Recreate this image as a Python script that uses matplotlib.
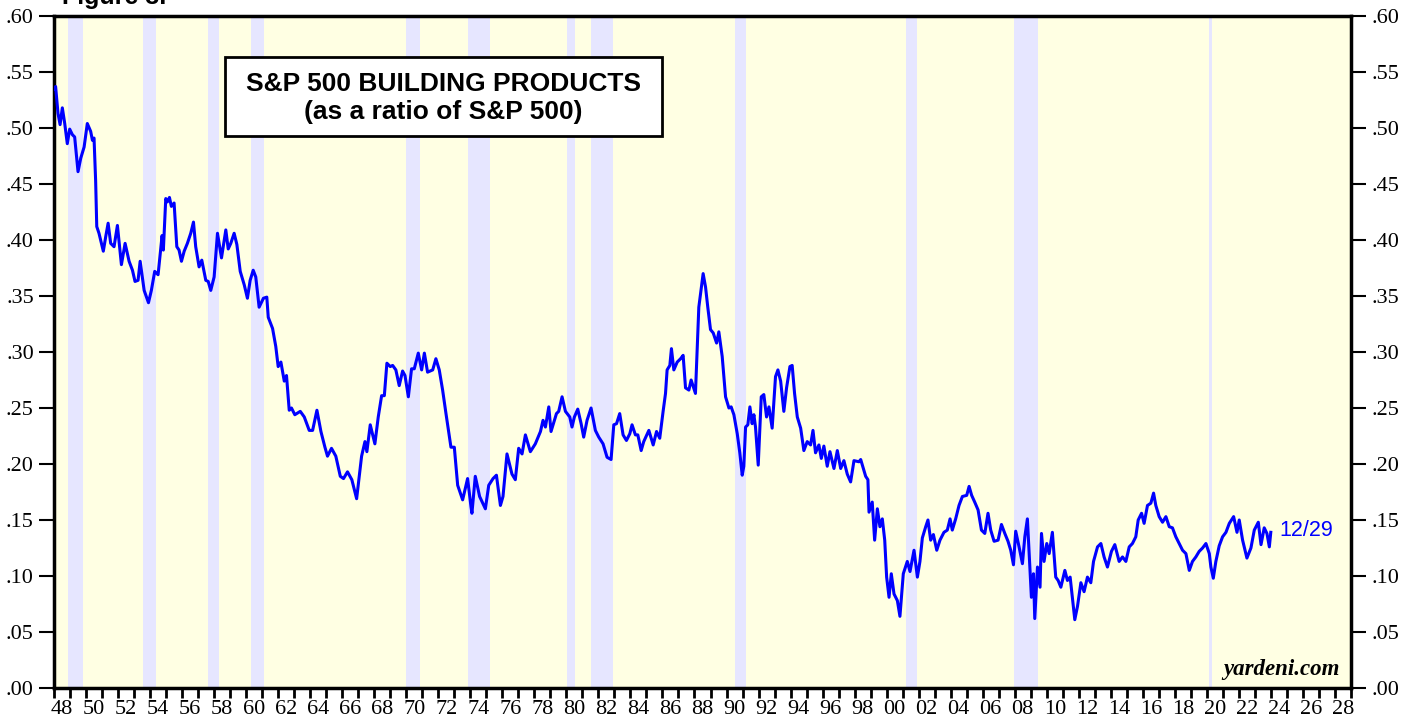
import numpy as np
import matplotlib.pyplot as plt
from matplotlib.patches import Rectangle

# S&P 500 Building Products / S&P 500 (decimal year, ratio)
years = [
    1948.00, 1948.10, 1948.25, 1948.38, 1948.52, 1948.67, 1948.83, 1948.98, 1949.15, 1949.29,
    1949.50, 1949.67, 1949.88, 1950.08, 1950.29, 1950.40, 1950.50, 1950.60, 1950.67, 1950.81,
    1951.08, 1951.23, 1951.38, 1951.54, 1951.75, 1951.96, 1952.21, 1952.44, 1952.69, 1952.90,
    1953.06, 1953.25, 1953.38, 1953.63, 1953.90, 1954.08, 1954.29, 1954.50, 1954.63, 1954.75,
    1954.83, 1954.98, 1955.08, 1955.21, 1955.33, 1955.50, 1955.67, 1955.81, 1955.96, 1956.13,
    1956.33, 1956.54, 1956.71, 1956.85, 1957.06, 1957.23, 1957.48, 1957.63, 1957.79, 1958.00,
    1958.21, 1958.46, 1958.73, 1958.88, 1959.04, 1959.25, 1959.42, 1959.63, 1959.88, 1960.08,
    1960.25, 1960.44, 1960.60, 1960.81, 1961.08, 1961.29, 1961.38, 1961.65, 1961.85, 1962.00,
    1962.17, 1962.38, 1962.52, 1962.69, 1962.83, 1963.04, 1963.38, 1963.63, 1963.94, 1964.15,
    1964.42, 1964.67, 1964.92, 1965.08, 1965.33, 1965.60, 1965.88, 1966.08, 1966.33, 1966.60,
    1966.90, 1967.06, 1967.21, 1967.42, 1967.54, 1967.75, 1968.04, 1968.25, 1968.46, 1968.63,
    1968.79, 1969.00, 1969.15, 1969.35, 1969.56, 1969.77, 1969.92, 1970.13, 1970.33, 1970.50,
    1970.75, 1970.96, 1971.13, 1971.33, 1971.65, 1971.85, 1972.06, 1972.27, 1972.48, 1972.79,
    1973.00, 1973.21, 1973.52, 1973.83, 1974.04, 1974.10, 1974.31, 1974.58, 1974.94, 1975.15,
    1975.42, 1975.63, 1975.88, 1976.04, 1976.29, 1976.60, 1976.81, 1977.02, 1977.23, 1977.44,
    1977.75, 1978.06, 1978.38, 1978.54, 1978.69, 1978.90, 1979.04, 1979.38, 1979.52, 1979.73,
    1979.94, 1980.21, 1980.35, 1980.50, 1980.71, 1980.92, 1981.08, 1981.29, 1981.54, 1981.81,
    1982.02, 1982.29, 1982.54, 1982.79, 1982.96, 1983.13, 1983.33, 1983.54, 1983.75, 1983.96,
    1984.10, 1984.31, 1984.46, 1984.67, 1984.83, 1985.15, 1985.42, 1985.63, 1985.83, 1986.04,
    1986.19, 1986.29, 1986.46, 1986.56, 1986.71, 1986.92, 1987.13, 1987.29, 1987.44, 1987.65,
    1987.79, 1988.06, 1988.27, 1988.54, 1988.69, 1988.83, 1989.00, 1989.17, 1989.38, 1989.52,
    1989.73, 1989.94, 1990.15, 1990.29, 1990.46, 1990.67, 1990.83, 1990.98, 1991.08, 1991.19,
    1991.33, 1991.46, 1991.60, 1991.71, 1991.81, 1991.98, 1992.17, 1992.33, 1992.50, 1992.65,
    1992.85, 1993.06, 1993.21, 1993.38, 1993.58, 1993.75, 1993.96, 1994.10, 1994.25, 1994.42,
    1994.63, 1994.83, 1995.04, 1995.25, 1995.40, 1995.56, 1995.77, 1995.92, 1996.08, 1996.29,
    1996.46, 1996.71, 1996.92, 1997.13, 1997.33, 1997.54, 1997.75, 1997.96, 1998.27, 1998.38,
    1998.69, 1998.83, 1998.90, 1999.10, 1999.25, 1999.42, 1999.58, 1999.73, 1999.88, 2000.00,
    2000.15, 2000.29, 2000.46, 2000.67, 2000.83, 2001.04, 2001.29, 2001.46, 2001.71, 2001.92,
    2002.08, 2002.23, 2002.44, 2002.58, 2002.75, 2002.92, 2003.13, 2003.33, 2003.58, 2003.79,
    2003.96, 2004.10, 2004.31, 2004.52, 2004.73, 2005.00, 2005.15, 2005.31, 2005.50, 2005.71,
    2005.92, 2006.13, 2006.33, 2006.50, 2006.71, 2006.96, 2007.17, 2007.38, 2007.58, 2007.75,
    2007.92, 2008.06, 2008.27, 2008.48, 2008.63, 2008.79, 2008.90, 2009.04, 2009.17, 2009.25,
    2009.42, 2009.58, 2009.67, 2009.83, 2010.00, 2010.15, 2010.35, 2010.56, 2010.71, 2010.88,
    2011.13, 2011.29, 2011.46, 2011.60, 2011.75, 2011.92, 2012.13, 2012.33, 2012.54, 2012.75,
    2012.92, 2013.17, 2013.38, 2013.58, 2013.79, 2014.04, 2014.25, 2014.52, 2014.73, 2014.94,
    2015.15, 2015.35, 2015.56, 2015.71, 2015.92, 2016.08, 2016.29, 2016.50, 2016.67, 2016.81,
    2017.02, 2017.23, 2017.44, 2017.65, 2017.85, 2018.06, 2018.27, 2018.48, 2018.69, 2018.90,
    2019.10, 2019.31, 2019.52, 2019.73, 2019.94, 2020.15, 2020.25, 2020.40, 2020.56, 2020.77,
    2020.98, 2021.19, 2021.40, 2021.67, 2021.88, 2022.02, 2022.23, 2022.50, 2022.75, 2022.96,
    2023.21, 2023.38, 2023.58, 2023.75, 2023.90, 2023.99,
]
ratio = [
    0.535, 0.537, 0.513, 0.503, 0.518, 0.504, 0.486, 0.499, 0.494, 0.492,
    0.461, 0.473, 0.483, 0.504, 0.497, 0.489, 0.491, 0.453, 0.412, 0.406,
    0.390, 0.403, 0.415, 0.397, 0.394, 0.413, 0.378, 0.397, 0.381, 0.373,
    0.363, 0.364, 0.381, 0.355, 0.344, 0.355, 0.372, 0.369, 0.387, 0.404,
    0.391, 0.437, 0.434, 0.438, 0.430, 0.433, 0.394, 0.391, 0.381, 0.390,
    0.397, 0.406, 0.416, 0.394, 0.376, 0.382, 0.364, 0.363, 0.355, 0.367,
    0.406, 0.384, 0.409, 0.392, 0.397, 0.406, 0.396, 0.372, 0.360, 0.348,
    0.364, 0.373, 0.367, 0.340, 0.348, 0.349, 0.331, 0.321, 0.305, 0.287,
    0.291, 0.274, 0.279, 0.248, 0.250, 0.244, 0.247, 0.242, 0.230, 0.230,
    0.248, 0.229, 0.215, 0.207, 0.214, 0.207, 0.189, 0.187, 0.193, 0.186,
    0.169, 0.189, 0.207, 0.220, 0.211, 0.235, 0.218, 0.242, 0.261, 0.261,
    0.290, 0.287, 0.288, 0.284, 0.270, 0.283, 0.279, 0.260, 0.285, 0.285,
    0.299, 0.284, 0.299, 0.282, 0.284, 0.294, 0.284, 0.266, 0.245, 0.215,
    0.215, 0.181, 0.168, 0.187, 0.162, 0.156, 0.189, 0.171, 0.160, 0.181,
    0.187, 0.190, 0.163, 0.171, 0.209, 0.191, 0.186, 0.214, 0.209, 0.226,
    0.211, 0.218, 0.229, 0.239, 0.233, 0.251, 0.229, 0.245, 0.247, 0.260,
    0.247, 0.242, 0.233, 0.242, 0.249, 0.236, 0.224, 0.239, 0.250, 0.230,
    0.224, 0.218, 0.206, 0.204, 0.235, 0.236, 0.245, 0.226, 0.221, 0.227,
    0.235, 0.226, 0.226, 0.212, 0.220, 0.230, 0.217, 0.229, 0.223, 0.247,
    0.263, 0.284, 0.288, 0.303, 0.284, 0.291, 0.294, 0.297, 0.268, 0.266,
    0.275, 0.263, 0.340, 0.370, 0.358, 0.340, 0.320, 0.317, 0.308, 0.318,
    0.296, 0.260, 0.250, 0.251, 0.244, 0.227, 0.210, 0.190, 0.198, 0.233,
    0.235, 0.251, 0.236, 0.244, 0.233, 0.199, 0.260, 0.262, 0.242, 0.251,
    0.232, 0.278, 0.284, 0.274, 0.247, 0.268, 0.287, 0.288, 0.263, 0.242,
    0.232, 0.212, 0.220, 0.217, 0.230, 0.210, 0.217, 0.205, 0.216, 0.198,
    0.211, 0.196, 0.212, 0.196, 0.203, 0.191, 0.184, 0.203, 0.202, 0.204,
    0.189, 0.186, 0.157, 0.166, 0.132, 0.160, 0.144, 0.151, 0.132, 0.099,
    0.081, 0.102, 0.084, 0.078, 0.064, 0.102, 0.113, 0.104, 0.123, 0.099,
    0.113, 0.134, 0.144, 0.150, 0.132, 0.137, 0.123, 0.132, 0.139, 0.141,
    0.151, 0.141, 0.151, 0.163, 0.171, 0.172, 0.180, 0.172, 0.166, 0.159,
    0.141, 0.138, 0.156, 0.141, 0.131, 0.132, 0.146, 0.138, 0.131, 0.123,
    0.110, 0.140, 0.126, 0.111, 0.135, 0.151, 0.120, 0.081, 0.102, 0.062,
    0.108, 0.090, 0.138, 0.113, 0.129, 0.120, 0.139, 0.099, 0.096, 0.090,
    0.105, 0.096, 0.099, 0.081, 0.061, 0.073, 0.094, 0.086, 0.099, 0.094,
    0.113, 0.126, 0.129, 0.117, 0.108, 0.122, 0.128, 0.113, 0.117, 0.113,
    0.126, 0.129, 0.135, 0.150, 0.156, 0.147, 0.163, 0.165, 0.174, 0.163,
    0.153, 0.148, 0.153, 0.144, 0.143, 0.135, 0.129, 0.123, 0.120, 0.105,
    0.113, 0.117, 0.122, 0.125, 0.129, 0.120, 0.108, 0.098, 0.113, 0.127,
    0.135, 0.139, 0.147, 0.153, 0.139, 0.150, 0.132, 0.116, 0.125, 0.141,
    0.148, 0.128, 0.143, 0.138, 0.126, 0.139,
]

# NBER recessions (start, end) in decimal years
recessions = [
    (1948.88, 1949.79), (1953.54, 1954.38), (1957.63, 1958.29), (1960.29, 1961.13),
    (1969.96, 1970.88), (1973.88, 1975.21), (1980.04, 1980.54), (1981.54, 1982.88),
    (1990.54, 1991.21), (2001.21, 2001.88), (2007.96, 2009.46), (2020.13, 2020.29),
]

ytick_vals = [0.00, 0.05, 0.10, 0.15, 0.20, 0.25, 0.30, 0.35, 0.40, 0.45, 0.50, 0.55, 0.60]
ytick_labels = [".00", ".05", ".10", ".15", ".20", ".25", ".30", ".35", ".40", ".45", ".50", ".55", ".60"]
xlabel_years = list(range(1948, 2029, 2))
xlabels = ["%02d" % (y % 100) for y in xlabel_years]

fig = plt.figure(figsize=(14.16, 7.19), dpi=100)
ax = fig.add_axes([54/1416, 31/719, 1297/1416, 672/719])
ax.set_facecolor("#FFFFE3")

for s, e in recessions:
    ax.axvspan(s, e, color="#E6E6FF", lw=0, zorder=1)

ax.plot(years, ratio, color="#0000FF", lw=2.2, zorder=3)

ax.set_xlim(1948, 2029)
ax.set_ylim(0, 0.60)

ax.set_yticks(ytick_vals)
ax.set_yticklabels(ytick_labels)
ax.tick_params(axis="y", which="major", direction="out", length=10.5, width=1.5,
               labelsize=16, left=True, right=True, labelleft=True, labelright=True, pad=4)

ax.set_xticks(np.arange(1948, 2030, 1))
ax.set_xticklabels([])
ax.set_xticks([y + 0.5 for y in xlabel_years], minor=True)
ax.set_xticklabels(xlabels, minor=True)
ax.tick_params(axis="x", which="major", direction="out", length=7, width=2)
ax.tick_params(axis="x", which="minor", length=0, labelsize=16, pad=9)

for lab in ax.get_xticklabels(minor=True):
    lab.set_fontfamily("Liberation Serif")
for t in ax.yaxis.get_major_ticks():
    t.label1.set_fontfamily("Liberation Serif")
    t.label2.set_fontfamily("Liberation Serif")
    t.label2.set_fontsize(16)

for sp in ax.spines.values():
    sp.set_linewidth(2.5)
    sp.set_color("black")

# title box
ax.add_patch(Rectangle((0.132, 0.821), 0.337, 0.118, transform=ax.transAxes,
                       facecolor="white", edgecolor="black", lw=2, zorder=5))
ax.text(0.3005, 0.899, "S&P 500 BUILDING PRODUCTS", transform=ax.transAxes,
        ha="center", va="center", fontsize=19, fontweight="bold",
        family="Liberation Sans", zorder=6)
ax.text(0.3005, 0.857, "(as a ratio of S&P 500)", transform=ax.transAxes,
        ha="center", va="center", fontsize=19, fontweight="bold",
        family="Liberation Sans", zorder=6)

ax.text(2024.5, 0.141, "12/29", color="#0000FF", fontsize=15.5,
        family="Liberation Sans", va="center", ha="left", zorder=6)
ax.text(0.991, 0.012, "yardeni.com", transform=ax.transAxes, ha="right", va="bottom",
        fontsize=16.5, fontweight="bold", fontstyle="italic", family="Liberation Serif", zorder=6)

fig.text(62/1416, 1 - 4/719, "Figure 3.", fontsize=18, fontweight="bold",
         family="Liberation Sans", va="baseline", ha="left")

fig.savefig("out.png", dpi=100)
